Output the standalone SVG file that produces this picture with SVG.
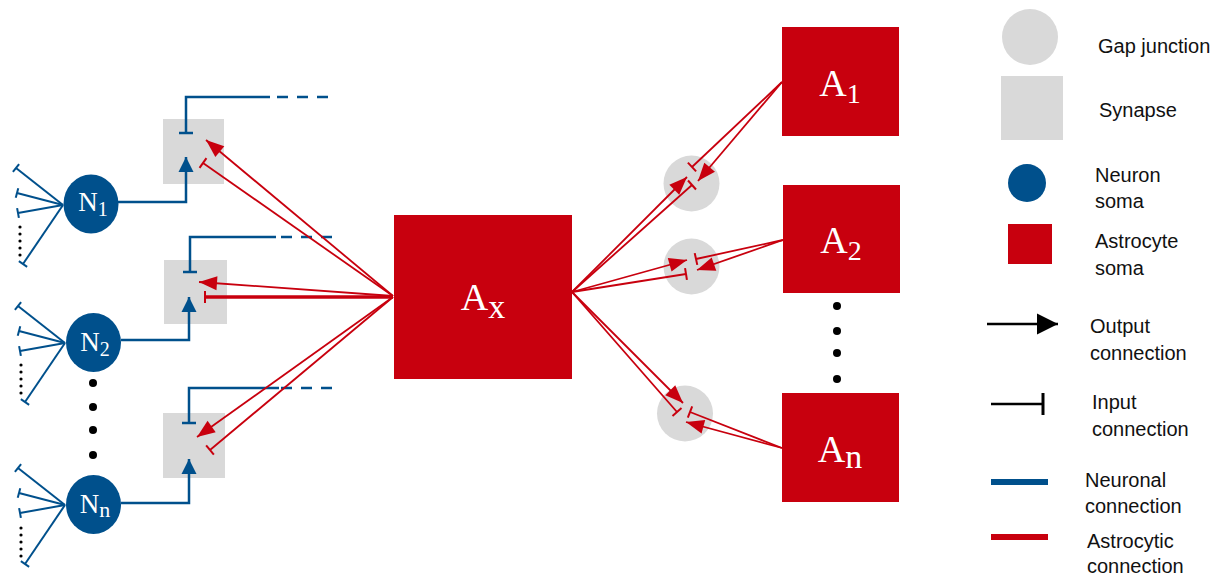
<svg xmlns="http://www.w3.org/2000/svg" width="1224" height="575" viewBox="0 0 1224 575">
<defs>
<style>
.bl{stroke:#00508C;fill:none;stroke-width:2.5}
.dend{stroke:#00508C;fill:none;stroke-width:2;marker-end:url(#teeD)}
.dash{stroke:#00508C;fill:none;stroke-width:2.5;stroke-dasharray:11 9}
.rd{stroke:#C8000E;fill:none;stroke-width:1.8}
.ra{marker-end:url(#arR)}
.rt{marker-end:url(#teeR)}
.gray{fill:#D9D9D9}
.neuron{fill:#00508C}
.astro{fill:#C8000E}
.lbl{font-family:"Liberation Serif","DejaVu Serif",serif;fill:#fff;text-anchor:middle}
.leg{font-family:"Liberation Sans",Arial,sans-serif;font-size:20px;fill:#111}
.dots{stroke:#000;stroke-width:3.2;stroke-linecap:round;stroke-dasharray:0 7;fill:none}
</style>
<marker id="arB" markerUnits="userSpaceOnUse" markerWidth="16" markerHeight="16" viewBox="0 0 16 16" refX="15" refY="7.5" orient="auto" overflow="visible"><path d="M0,0 L15,7.5 L0,15 z" fill="#00508C"/></marker>
<marker id="teeB" markerUnits="userSpaceOnUse" markerWidth="4" markerHeight="16" viewBox="-2 -8 4 16" refX="0" refY="0" orient="auto" overflow="visible"><path d="M0,-7 L0,7" stroke="#00508C" stroke-width="2.5"/></marker>
<marker id="teeD" markerUnits="userSpaceOnUse" markerWidth="4" markerHeight="12" viewBox="-2 -6 4 12" refX="0" refY="0" orient="auto" overflow="visible"><path d="M0,-5 L0,5" stroke="#00508C" stroke-width="2"/></marker>
<marker id="arR" markerUnits="userSpaceOnUse" markerWidth="19" markerHeight="15" viewBox="0 0 19 15" refX="18" refY="7" orient="auto" overflow="visible"><path d="M0,0 L18,7 L0,14 z" fill="#C8000E"/></marker>
<marker id="teeR" markerUnits="userSpaceOnUse" markerWidth="4" markerHeight="13" viewBox="-2 -6.5 4 13" refX="0" refY="0" orient="auto" overflow="visible"><path d="M0,-6 L0,6" stroke="#C8000E" stroke-width="2"/></marker>
<marker id="arK" markerUnits="userSpaceOnUse" markerWidth="22" markerHeight="22" viewBox="0 0 22 22" refX="21" refY="10.5" orient="auto" overflow="visible"><path d="M0,0 L21,10.5 L0,21 z" fill="#000"/></marker>
<marker id="teeK" markerUnits="userSpaceOnUse" markerWidth="4" markerHeight="24" viewBox="-2 -12 4 24" refX="0" refY="0" orient="auto" overflow="visible"><path d="M0,-11 L0,11" stroke="#000" stroke-width="3"/></marker>
</defs>
<rect width="1224" height="575" fill="#fff"/>

<!-- synapses and gap junctions -->
<g id="synapse1"><rect class="gray" x="163" y="119" width="61" height="65"/></g>
<g id="synapse2"><rect class="gray" x="164" y="260" width="63" height="64"/></g>
<g id="synapse3"><rect class="gray" x="163" y="413" width="62" height="65"/></g>
<g id="gap1"><circle class="gray" cx="691.5" cy="183.5" r="28"/></g>
<g id="gap2"><circle class="gray" cx="691.5" cy="266.5" r="28"/></g>
<g id="gap3"><circle class="gray" cx="685" cy="413.5" r="28"/></g>

<!-- connectors -->
<g id="connectors">
  <!-- N1 -->
  <path class="dend" d="M63,205 L16,168"/>
  <path class="dend" d="M63,205 L17,193"/>
  <path class="dend" d="M63,205 L18,213"/>
  <path class="dend" d="M63,205 L23,264"/>
  <path class="bl" d="M118,202 H186 V157" marker-end="url(#arB)"/>
  <path class="bl" d="M186,133 V97 H270" marker-start="url(#teeB)"/>
  <path class="dash" d="M277,97 H335"/>
  <!-- N2 -->
  <path class="dend" d="M65,343 L18,306"/>
  <path class="dend" d="M65,343 L19,331"/>
  <path class="dend" d="M65,343 L20,351"/>
  <path class="dend" d="M65,343 L25,402"/>
  <path class="bl" d="M121,340 H189 V297" marker-end="url(#arB)"/>
  <path class="bl" d="M190,272 V237 H276" marker-start="url(#teeB)"/>
  <path class="dash" d="M281,237 H340"/>
  <!-- Nn -->
  <path class="dend" d="M65,505 L18,468"/>
  <path class="dend" d="M65,505 L19,493"/>
  <path class="dend" d="M65,505 L20,513"/>
  <path class="dend" d="M65,505 L25,564"/>
  <path class="bl" d="M121,503 H189 V459" marker-end="url(#arB)"/>
  <path class="bl" d="M189,423 V388 H279" marker-start="url(#teeB)"/>
  <path class="dash" d="M281,388 H340"/>

  <!-- Ax to synapses -->
  <path class="rd ra" d="M393,296 L206,140"/>
  <path class="rd rt" d="M393,296 L203,163"/>
  <path class="rd ra" d="M393,296 L199,282"/>
  <path class="rd rt" d="M393,297 L205,297" style="stroke-width:3.5"/>
  <path class="rd ra" d="M393,297 L197,437"/>
  <path class="rd rt" d="M393,297 L210,450"/>

  <!-- Ax to gap junctions -->
  <path class="rd ra" d="M572,292 L687,177"/>
  <path class="rd rt" d="M572,292 L692,185"/>
  <path class="rd ra" d="M572,292 L687,260"/>
  <path class="rd rt" d="M572,292 L686,274"/>
  <path class="rd ra" d="M572,292 L683,403"/>
  <path class="rd rt" d="M572,292 L677,412"/>

  <!-- A1, A2, An to gap junctions -->
  <path class="rd rt" d="M782,82 L692,167"/>
  <path class="rd ra" d="M782,82 L698,181"/>
  <path class="rd rt" d="M783,240 L696,259"/>
  <path class="rd ra" d="M783,240 L697,270"/>
  <path class="rd rt" d="M782,448 L690,412"/>
  <path class="rd ra" d="M782,448 L686,422"/>
</g>

<!-- small dots between dendrites -->
<path class="dots" d="M20,227 V256"/>
<path class="dots" d="M21,365 V394"/>
<path class="dots" d="M21,528 V557"/>

<!-- neurons -->
<g id="N1"><ellipse class="neuron" cx="91" cy="204" rx="27.5" ry="29.5"/><text class="lbl" x="93" y="211" font-size="27">N<tspan font-size="20" dy="5">1</tspan></text></g>
<g id="N2"><ellipse class="neuron" cx="93.5" cy="342.5" rx="27.5" ry="29.5"/><text class="lbl" x="95" y="351" font-size="27">N<tspan font-size="20" dy="5">2</tspan></text></g>
<g id="Nn"><ellipse class="neuron" cx="93.5" cy="504.5" rx="27.5" ry="29.5"/><text class="lbl" x="95" y="513" font-size="27">N<tspan font-size="22" dy="4">n</tspan></text></g>

<g id="ndots" fill="#000">
  <circle cx="93" cy="383" r="4"/><circle cx="93" cy="407" r="4"/><circle cx="93" cy="430" r="4"/><circle cx="93" cy="455" r="4"/>
</g>

<!-- astrocytes -->
<g id="Ax"><rect class="astro" x="394" y="215" width="178" height="164"/><text class="lbl" x="483" y="310" font-size="38">A<tspan font-size="34" dy="8">x</tspan></text></g>
<g id="A1"><rect class="astro" x="782" y="27" width="117" height="109"/><text class="lbl" x="840" y="96" font-size="38">A<tspan font-size="28" dy="7">1</tspan></text></g>
<g id="A2"><rect class="astro" x="783" y="185" width="117" height="108"/><text class="lbl" x="841" y="253" font-size="38">A<tspan font-size="28" dy="7">2</tspan></text></g>
<g id="An"><rect class="astro" x="782" y="393" width="117" height="109"/><text class="lbl" x="840" y="462" font-size="38">A<tspan font-size="34" dy="6">n</tspan></text></g>

<g id="adots" fill="#000">
  <circle cx="837" cy="306" r="4"/><circle cx="837" cy="331" r="4"/><circle cx="837" cy="353" r="4"/><circle cx="837" cy="379" r="4"/>
</g>

<!-- legend -->
<g id="legend">
  <circle class="gray" cx="1030" cy="37" r="28"/>
  <text class="leg" x="1098" y="53">Gap junction</text>
  <rect class="gray" x="1001" y="76" width="62" height="64"/>
  <text class="leg" x="1099" y="117">Synapse</text>
  <circle class="neuron" cx="1027" cy="183" r="19"/>
  <text class="leg" x="1095" y="182">Neuron</text>
  <text class="leg" x="1095" y="208">soma</text>
  <rect class="astro" x="1008" y="224" width="44" height="40"/>
  <text class="leg" x="1095" y="248">Astrocyte</text>
  <text class="leg" x="1095" y="275">soma</text>
  <path d="M987,324 H1058" stroke="#000" stroke-width="2.5" marker-end="url(#arK)"/>
  <text class="leg" x="1090" y="333">Output</text>
  <text class="leg" x="1090" y="360">connection</text>
  <path d="M991,404 H1043" stroke="#000" stroke-width="2.5" marker-end="url(#teeK)"/>
  <text class="leg" x="1092" y="409">Input</text>
  <text class="leg" x="1092" y="436">connection</text>
  <path d="M991,482 H1048" stroke="#00508C" stroke-width="6"/>
  <text class="leg" x="1085" y="487">Neuronal</text>
  <text class="leg" x="1085" y="513">connection</text>
  <path d="M991,537 H1048" stroke="#C8000E" stroke-width="6"/>
  <text class="leg" x="1087" y="548">Astrocytic</text>
  <text class="leg" x="1087" y="573">connection</text>
</g>
</svg>
